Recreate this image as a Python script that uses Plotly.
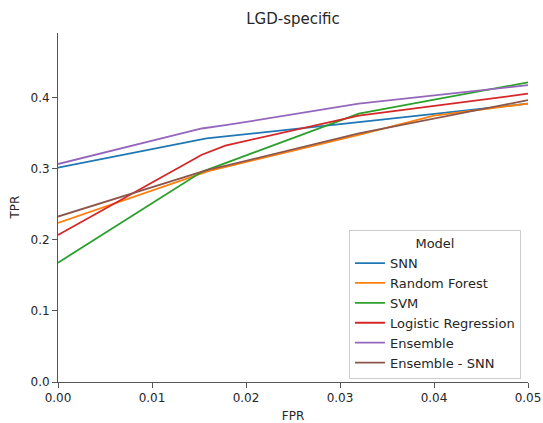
import plotly.graph_objects as go

models = ["SNN", "Random Forest", "SVM", "Logistic Regression", "Ensemble", "Ensemble - SNN"]
colors = ["#1f77b4", "#ff7f0e", "#2ca02c", "#d62728", "#9467bd", "#8c564b"]

snn_fpr = [0.0, 0.0158, 0.032, 0.040, 0.05]
snn_tpr = [0.302, 0.343, 0.366, 0.378, 0.392]
rf_fpr = [0.0, 0.016, 0.032, 0.040, 0.05]
rf_tpr = [0.224, 0.297, 0.348, 0.375, 0.392]
svm_fpr = [0.0, 0.0153, 0.032, 0.05]
svm_tpr = [0.168, 0.296, 0.378, 0.422]
lr_fpr = [0.0, 0.0153, 0.0178, 0.032, 0.05]
lr_tpr = [0.207, 0.320, 0.333, 0.375, 0.406]
ens_fpr = [0.0, 0.0153, 0.018, 0.032, 0.05]
ens_tpr = [0.307, 0.357, 0.362, 0.392, 0.418]
enssnn_fpr = [0.0, 0.016, 0.018, 0.032, 0.05]
enssnn_tpr = [0.233, 0.299, 0.305, 0.350, 0.397]

series = [
    (snn_fpr, snn_tpr),
    (rf_fpr, rf_tpr),
    (svm_fpr, svm_tpr),
    (lr_fpr, lr_tpr),
    (ens_fpr, ens_tpr),
    (enssnn_fpr, enssnn_tpr),
]

x_ticks = [0.0, 0.01, 0.02, 0.03, 0.04, 0.05]
x_ticklabels = ["0.00", "0.01", "0.02", "0.03", "0.04", "0.05"]
y_ticks = [0.0, 0.1, 0.2, 0.3, 0.4]
y_ticklabels = ["0.0", "0.1", "0.2", "0.3", "0.4"]

font_family = "DejaVu Sans"
text_color = "#262626"

fig = go.Figure()
for name, color, (fx, ty) in zip(models, colors, series):
    fig.add_trace(go.Scatter(x=fx, y=ty, mode="lines", name=name,
                             line=dict(color=color, width=1.8)))

fig.update_layout(
    width=543, height=423,
    margin=dict(l=58, r=15, t=33, b=41),
    paper_bgcolor="white", plot_bgcolor="white",
    font=dict(family=font_family, size=12, color=text_color),
    title=dict(text="LGD-specific", x=(58 + 470 / 2) / 543, xanchor="center",
               y=1 - 19 / 423, yanchor="middle",
               font=dict(size=15, color=text_color)),
    legend=dict(
        title=dict(text="Model", side="top center", font=dict(size=13)),
        x=0.985, xanchor="right", y=0.008, yanchor="bottom",
        bgcolor="rgba(255,255,255,0.85)", bordercolor="#cccccc", borderwidth=1,
        font=dict(size=13), itemwidth=30, tracegroupgap=0,
    ),
    showlegend=True,
    annotations=[dict(text="TPR", textangle=-90, xref="paper", yref="paper",
                      x=-0.0915, y=0.5, xanchor="center", yanchor="middle",
                      showarrow=False, font=dict(size=12, color=text_color))],
)
fig.update_xaxes(
    range=[0, 0.05], tickvals=x_ticks, ticktext=x_ticklabels,
    showgrid=False, zeroline=False, showline=True, linecolor="#555555", linewidth=1,
    ticks="outside", ticklen=5, tickcolor="#555555", automargin=False,
    tickfont=dict(size=12),
    title=dict(text="FPR", font=dict(size=12)),
)
fig.update_yaxes(
    range=[0, 0.4915], tickvals=y_ticks, ticktext=y_ticklabels,
    showgrid=False, zeroline=False, showline=True, linecolor="#555555", linewidth=1,
    ticks="outside", ticklen=5, tickcolor="#555555", automargin=False,
    tickfont=dict(size=12),
)

fig.write_html("out.html")
